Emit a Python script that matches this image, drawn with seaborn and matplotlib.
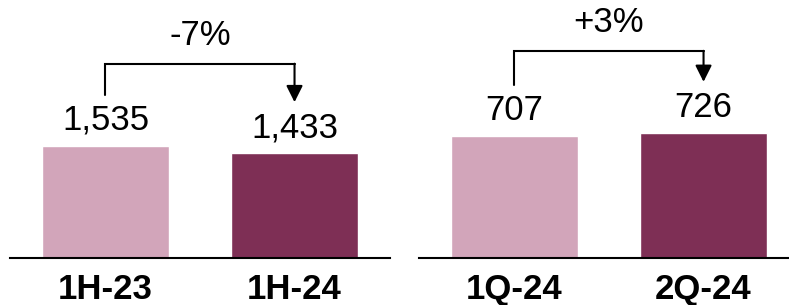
import matplotlib
matplotlib.use("Agg")
import matplotlib.pyplot as plt
import seaborn as sns
import pandas as pd

# data
half_labels = ['1H-23', '1H-24']
half_values = [1535, 1433]
half_change = '-7%'

quarter_labels = ['1Q-24', '2Q-24']
quarter_values = [707, 726]
quarter_change = '+3%'

light_col = '#D2A5BA'
dark_col = '#7E2F55'

sns.set_style("white")
plt.rcParams['font.family'] = ['Liberation Sans', 'DejaVu Sans']
plt.rcParams['text.color'] = 'black'
plt.rcParams['xtick.color'] = 'black'
plt.rcParams['xtick.labelcolor'] = 'black'

W, H = 789, 305
fig = plt.figure(figsize=(W / 100, H / 100), dpi=100)

base_px = 257.7           # baseline, pixels from top
ax_h = base_px / H
ax_b = (H - base_px) / H


def draw_panel(ax, labels, values, change, ymax, xmax):
    df = pd.DataFrame({'label': labels, 'value': values})
    sns.barplot(data=df, x='label', y='value', hue='label',
                palette=[light_col, dark_col], width=0.67,
                saturation=1, legend=False, ax=ax)
    ax.set_ylim(0, ymax)
    ax.set_xlim(-0.505, xmax)
    ax.set_xlabel('')
    ax.set_ylabel('')
    ax.set_yticks([])
    for s in ['top', 'right', 'left']:
        ax.spines[s].set_visible(False)
    ax.spines['bottom'].set_color('black')
    ax.spines['bottom'].set_linewidth(1.5)
    ax.tick_params(axis='x', length=0, pad=11)
    for t in ax.get_xticklabels():
        t.set_fontsize(25)
        t.set_fontweight('bold')
        t.set_color('black')

    # pixel -> data units
    px = ymax / base_px

    for i, v in enumerate(values):
        ax.annotate(f"{v:,}", (i, v), xytext=(0, 11.5),
                    textcoords='offset points', ha='center',
                    va='baseline', fontsize=25, color='black')

    start = values[0] + 51 * px
    tip = values[1] + 51 * px
    top = max(values) + 82 * px
    ax.plot([0, 0, 1], [start, top, top], color='black', lw=1.5,
            solid_joinstyle='miter', clip_on=False)
    ax.annotate('', xy=(1, tip), xytext=(1, top),
                arrowprops=dict(arrowstyle='-|>', mutation_scale=25,
                                lw=1.5, color='black',
                                shrinkA=0, shrinkB=0),
                annotation_clip=False)
    ax.text(0.5, top + 28 * px, change, ha='center', va='center',
            fontsize=25, color='black')


ax1 = fig.add_axes([10 / W, ax_b, 380 / W, ax_h])
draw_panel(ax1, half_labels, half_values, half_change,
           base_px / 0.07296, 1.505)

ax2 = fig.add_axes([419 / W, ax_b, 370 / W, ax_h])
draw_panel(ax2, quarter_labels, quarter_values, quarter_change,
           base_px / 0.172, 1.452)

fig.savefig('out.png', dpi=100)
